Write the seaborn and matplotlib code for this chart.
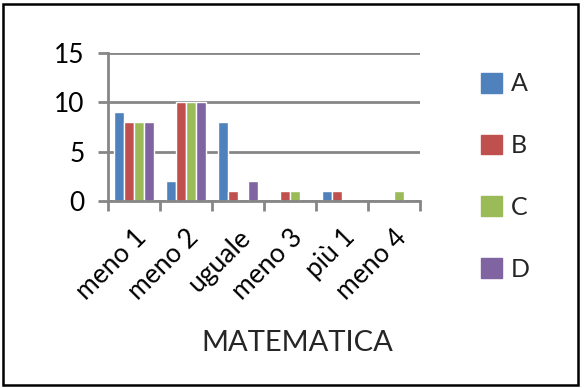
import pandas as pd
import matplotlib.pyplot as plt
import matplotlib.patches as mpatches
import seaborn as sns

# Data
categories = ['meno 1', 'meno 2', 'uguale', 'meno 3', 'più 1', 'meno 4']
serie_a = [9, 2, 8, 0, 1, 0]
serie_b = [8, 10, 1, 1, 1, 0]
serie_c = [8, 10, 0, 1, 0, 1]
serie_d = [8, 10, 2, 0, 0, 0]
series_names = ['A', 'B', 'C', 'D']
colors = ['#4F81BD', '#C0504D', '#9BBB59', '#8064A2']

df = pd.DataFrame({'categoria': categories, 'A': serie_a, 'B': serie_b,
                   'C': serie_c, 'D': serie_d})
df_long = df.melt(id_vars='categoria', var_name='serie', value_name='valore')

sns.set_style('white')
plt.rcParams['font.family'] = ['Lato', 'DejaVu Sans']

fig = plt.figure(figsize=(5.84, 3.88), dpi=100)
ax = fig.add_axes([0.185, 0.482, 0.534, 0.381])

sns.barplot(data=df_long, x='categoria', y='valore', hue='serie',
            palette=colors, width=0.77, saturation=1, ax=ax, legend=False)

ax.set_ylim(0, 15)
ax.set_xlim(-0.5, len(categories) - 0.5)
ax.set_yticks([0, 5, 10, 15])
ax.yaxis.grid(True, color='#868686', linewidth=2)
ax.set_axisbelow(True)
for side in ['top', 'right']:
    ax.spines[side].set_visible(False)
for side in ['left', 'bottom']:
    ax.spines[side].set_color('#868686')
    ax.spines[side].set_linewidth(2)

ax.set_xticks(range(len(categories)))
ax.set_xticklabels(categories, rotation=45, ha='right', rotation_mode='anchor',
                   fontsize=19, color='black')
ax.tick_params(axis='x', which='major', length=0, pad=17)
ax.set_xticks([i - 0.5 for i in range(len(categories) + 1)], minor=True)
ax.tick_params(axis='x', which='minor', length=7, width=2, color='#868686',
               direction='out', bottom=True)
ax.tick_params(axis='y', length=7, width=2, color='#868686', left=True,
               labelsize=19, labelcolor='black', pad=10)
ax.set_xlabel('MATEMATICA', fontsize=21)
ax.xaxis.set_label_coords(0.606, -0.87)
ax.set_ylabel('')

handles = [mpatches.Patch(color=c, label=n) for c, n in zip(colors, series_names)]
fig.legend(handles=handles, loc='center left', bbox_to_anchor=(0.785, 0.545),
           frameon=False, fontsize=18, labelspacing=1.55, handlelength=0.85,
           handleheight=0.85, handletextpad=0.35)

fig.patches.append(mpatches.Rectangle((0.005, 0.008), 0.985, 0.982,
                                      transform=fig.transFigure, fill=False,
                                      edgecolor='black', linewidth=1.8))

fig.savefig('out.png', dpi=100)
